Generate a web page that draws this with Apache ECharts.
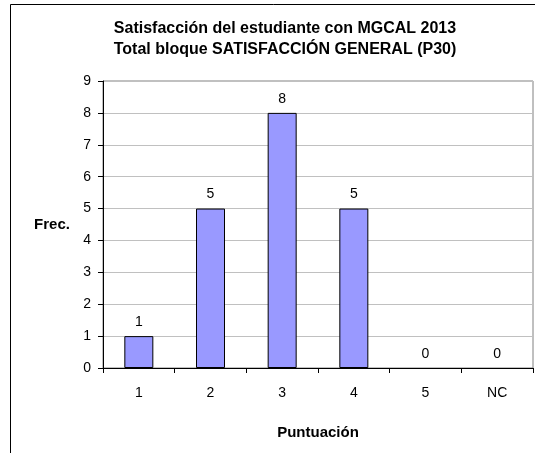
<!DOCTYPE html>
<html>
<head>
<meta charset="utf-8">
<script src="https://cdn.jsdelivr.net/npm/echarts@6/dist/echarts.min.js"></script>
<style>
  html, body { margin: 0; padding: 0; background: #fff; }
  #chart { width: 535px; height: 453px; }
</style>
</head>
<body>
<div id="chart"></div>
<script>
// datos
const categorias = ['1', '2', '3', '4', '5', 'NC'];
const frecuencias = [1, 5, 8, 5, 0, 0];
const titulo = ['Satisfacción del estudiante con MGCAL 2013', 'Total bloque SATISFACCIÓN GENERAL (P30)'];

const fuente = '"Liberation Sans", Arial, sans-serif';
const chart = echarts.init(document.getElementById('chart'));

// las barras con valor 0 no muestran borde
const datosBarras = frecuencias.map(v => ({
  value: v,
  itemStyle: v === 0 ? { borderWidth: 0 } : {}
}));

chart.setOption({
  animation: false,
  backgroundColor: '#fff',
  textStyle: { fontFamily: fuente },
  title: {
    text: titulo.join('\n'),
    left: 280,
    top: 13,
    textAlign: 'center',
    textStyle: { fontSize: 16, fontWeight: 'bold', color: '#000', lineHeight: 21, fontFamily: fuente }
  },
  // borde del área del gráfico
  graphic: [{
    type: 'rect',
    shape: { x: 10.5, y: 4.5, width: 700, height: 700 },
    style: { fill: null, stroke: '#000', lineWidth: 1 },
    silent: true
  }],
  grid: {
    left: 103, right: 2, top: 81, bottom: 85,
    show: true, borderColor: '#808080', borderWidth: 1, backgroundColor: 'transparent'
  },
  xAxis: {
    type: 'category',
    data: categorias,
    name: 'Puntuación',
    nameLocation: 'middle',
    nameGap: 57,
    nameTextStyle: { fontSize: 15, fontWeight: 'bold', color: '#000', fontFamily: fuente },
    axisLine: { lineStyle: { color: '#000', width: 1 } },
    axisTick: { show: true, length: 5, inside: false, lineStyle: { color: '#000' } },
    axisLabel: { fontSize: 14, color: '#000', margin: 18, fontFamily: fuente }
  },
  yAxis: {
    type: 'value',
    min: 0, max: 9, interval: 1,
    name: 'Frec.',
    nameLocation: 'middle',
    nameGap: 51,
    nameRotate: 0,
    nameTextStyle: { fontSize: 15, fontWeight: 'bold', color: '#000', align: 'center', verticalAlign: 'middle', fontFamily: fuente },
    axisLine: { show: true, lineStyle: { color: '#000', width: 1 } },
    axisTick: { show: true, length: 5, lineStyle: { color: '#000' } },
    axisLabel: { fontSize: 14, color: '#000', margin: 12, fontFamily: fuente },
    splitLine: { show: true, lineStyle: { color: '#c0c0c0', width: 1 } }
  },
  series: [{
    type: 'bar',
    data: datosBarras,
    barWidth: 29,
    itemStyle: { color: '#9999ff', borderColor: '#000', borderWidth: 1 },
    label: { show: true, position: 'top', distance: 7, fontSize: 14, color: '#000', fontFamily: fuente }
  }]
});
</script>
</body>
</html>
